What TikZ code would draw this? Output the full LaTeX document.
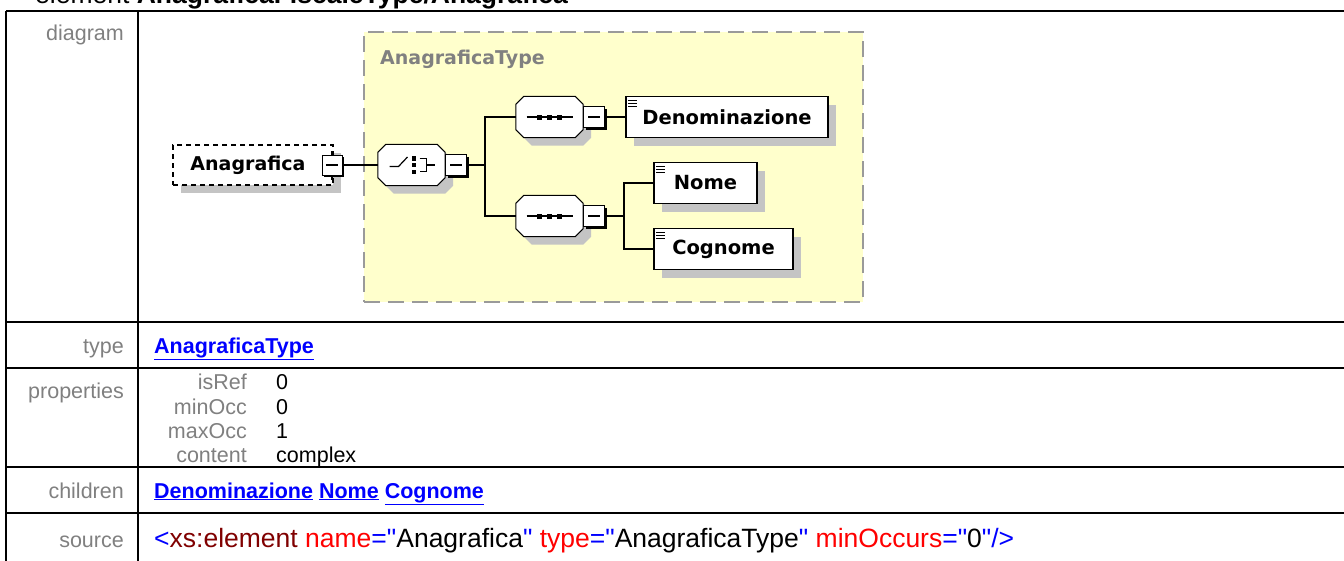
\documentclass[tikz,border=0pt]{standalone}
\usepackage{fontspec}
\setmainfont{Liberation Sans}[Ligatures=TeXOff]
\newfontfamily\dvfont{DejaVu Sans}
\usetikzlibrary{shadows}
\definecolor{ybg}{HTML}{FFFFCC}
\definecolor{dgray}{HTML}{9A9A9A}
\definecolor{lgray}{HTML}{808080}
\definecolor{shd}{HTML}{C4C4C4}
\definecolor{lnk}{HTML}{0000FF}
\definecolor{dred}{HTML}{800000}
\definecolor{ared}{HTML}{FF0000}
\newcommand\elicon[1]{\foreach \d in {5,8,11} \draw[line width=0.9pt] ([xshift=3pt,yshift=-\d pt]#1.north west) -- ++(9,0);}
\newcommand\octo[1]{%
  \fill[shd] ([xshift=16pt,yshift=-8pt]#1.north west) -- ([yshift=-8pt]#1.north east) -- ([xshift=8pt,yshift=-16pt]#1.north east) -- ([xshift=8pt]#1.south east) -- ([yshift=-8pt]#1.south east) -- ([xshift=16pt,yshift=-8pt]#1.south west) -- ([xshift=8pt]#1.south west) -- ([xshift=8pt,yshift=-16pt]#1.north west) -- cycle;
  \draw[line width=1pt, fill=white] ([xshift=8pt]#1.north west) -- ([xshift=-8pt]#1.north east) -- ([yshift=-8pt]#1.north east) -- ([yshift=8pt]#1.south east) -- ([xshift=-8pt]#1.south east) -- ([xshift=8pt]#1.south west) -- ([yshift=8pt]#1.south west) -- ([yshift=-8pt]#1.north west) -- cycle;}
\begin{document}
\begin{tikzpicture}[x=1pt,y=-1pt,
  tline/.style={line width=2.5pt, black},
  lab/.style={anchor=base east, text=lgray, font=\fontsize{21.5}{24}\selectfont, inner sep=0pt},
  val/.style={anchor=base west, text=black, font=\fontsize{21.5}{24}\selectfont, inner sep=0pt},
  lnkv/.style={anchor=base west, text=lnk, font=\bfseries\fontsize{21.5}{24}\selectfont, inner sep=0pt},
  elem/.style={rectangle, draw=black, line width=1.3pt, fill=white, minimum height=41pt, inner sep=0pt,
    font=\dvfont\bfseries\fontsize{19.5}{21}\selectfont,
    drop shadow={shadow xshift=8pt, shadow yshift=-8pt, fill=shd, opacity=1}},
  oct/.style={rectangle, minimum width=67pt, minimum height=41pt, inner sep=0pt},
  mbox/.style={rectangle, draw=black, line width=1pt, fill=white, minimum size=21pt, inner sep=0pt,
    drop shadow={shadow xshift=2pt, shadow yshift=-2pt, fill=black, opacity=1},
    path picture={\draw[line width=1.2pt] ([xshift=-6pt]path picture bounding box.center) -- ([xshift=6pt]path picture bounding box.center);}},
  conn/.style={line width=1.2pt, black},
  icon/.style={line width=1.2pt, black}]
\useasboundingbox (0,0) rectangle (1344,560);
\clip (0,0) rectangle (1344,560);
\fill[white] (0,0) rectangle (1344,560);

% title
\node[anchor=base west, inner sep=0pt, font=\fontsize{26.5}{28}\selectfont] (title) at (35,3.5) {element \textbf{AnagraficaFiscaleType/Anagrafica}};

% table lines
\draw[tline] (6,11) -- (1350,11);
\draw[tline] (6,11) -- (6,570);
\draw[tline] (138,11) -- (138,570);
\foreach \yy in {322,368,467,513} \draw[tline] (6,\yy) -- (1350,\yy);

% labels
\node[lab] (ldiag) at (124,40) {diagram};
\node[lab] (ltype) at (124,353) {type};
\node[lab] (lprop) at (124,398) {properties};
\node[lab] (lchild) at (124,498) {children};
\node[lab] (lsrc) at (124,547) {source};

% type row
\node[lnkv] (vtype) at (154,353) {\underline{AnagraficaType}};
% properties
\node[lab] (pisref) at (247,389) {isRef};
\node[lab] (pminocc) at (247,414) {minOcc};
\node[lab] (pmaxocc) at (247,438) {maxOcc};
\node[lab] (pcontent) at (247,462) {content};
\node[val] (visref) at (276,389) {0};
\node[val] (vminocc) at (276,414) {0};
\node[val] (vmaxocc) at (276,438) {1};
\node[val] (vcontent) at (276,462) {complex};
% children
\node[lnkv] (vchild) at (154,498) {\underline{Denominazione} \underline{Nome} \underline{Cognome}};
% source
\node[anchor=base west, inner sep=0pt, font=\fontsize{26.5}{28}\selectfont] (vsrc) at (154,547)
  {\textcolor{lnk}{<}\textcolor{dred}{xs:element} \textcolor{ared}{name}\textcolor{lnk}{="}Anagrafica\textcolor{lnk}{"} \textcolor{ared}{type}\textcolor{lnk}{="}AnagraficaType\textcolor{lnk}{"} \textcolor{ared}{minOccurs}\textcolor{lnk}{="}0\textcolor{lnk}{"/>}};

% diagram: type box
\node[rectangle, draw=dgray, line width=2pt, dash pattern=on 16pt off 8pt, fill=ybg,
  minimum width=499pt, minimum height=270pt, inner sep=0pt] (tbox) at (613.5,167) {};
\node[anchor=west, inner sep=0pt, text=lgray, font=\dvfont\bfseries\fontsize{19}{20}\selectfont] (tlabel) at (380,59) {AnagraficaType};

% Anagrafica element (optional, dashed)
\node[elem, minimum width=160pt, minimum height=40pt, dash pattern=on 5pt off 4pt] (anag) at (253,165) {};
\node[inner sep=0pt, font=\dvfont\bfseries\fontsize{19}{20}\selectfont] (anagt) at (248,165) {Anagrafica};
\node[mbox, minimum size=20pt] (aminus) at (332,165) {};
\draw[line width=1.2pt] (aminus.north) -- ++(0,-4);
\draw[line width=1.2pt] (aminus.south) -- ++(0,4);

% choice compositor
\node[oct] (choice) at (411.5,165) {};
\octo{choice}
\node[mbox, anchor=west] (cminus) at (choice.east) {};
\begin{scope}[shift={(choice.center)}]
  \draw[icon] (-22,1.5) -- (-13,1.5) -- (-4,-8);
  \fill (0,-9) rectangle (4.5,-4.5);
  \fill (0,-2.2) rectangle (4.5,2.2);
  \fill (0,4.5) rectangle (4.5,9);
  \draw[icon] (8,-6.5) -- (15,-6.5) -- (15,6.5) -- (8,6.5);
  \draw[icon] (15,0) -- (23,0);
\end{scope}

% sequence compositors
\node[oct] (seq1) at (549.5,117) {};
\octo{seq1}
\node[mbox, anchor=west] (s1minus) at (seq1.east) {};
\node[oct] (seq2) at (549.5,216) {};
\octo{seq2}
\node[mbox, anchor=west] (s2minus) at (seq2.east) {};
\foreach \s in {seq1,seq2}{
  \begin{scope}[shift={(\s.center)}]
    \draw[icon] (-23,0) -- (23,0);
    \fill (-12.5,-2.5) rectangle (-7.5,2.5);
    \fill (-2.5,-2.5) rectangle (2.5,2.5);
    \fill (7.5,-2.5) rectangle (12.5,2.5);
  \end{scope}
}

% child elements
\node[elem, minimum width=202pt] (denom) at (727,117) {Denominazione};
\node[elem, minimum width=103pt] (nome) at (705.5,183) {Nome};
\node[elem, minimum width=139pt] (cognome) at (723.5,249) {Cognome};
\elicon{denom}
\elicon{nome}
\elicon{cognome}

% connectors
\coordinate (bus1) at (485,165);
\coordinate (bus2) at (624,216);
\draw[conn] (aminus.east) -- (choice.west);
\draw[conn] (cminus.east) -- (bus1);
\draw[conn] (seq1.west) -| (bus1) |- (seq2.west);
\draw[conn] (s1minus.east) -- (denom.west);
\draw[conn] (s2minus.east) -- (bus2);
\draw[conn] (nome.west) -| (bus2) |- (cognome.west);
\end{tikzpicture}
\end{document}
